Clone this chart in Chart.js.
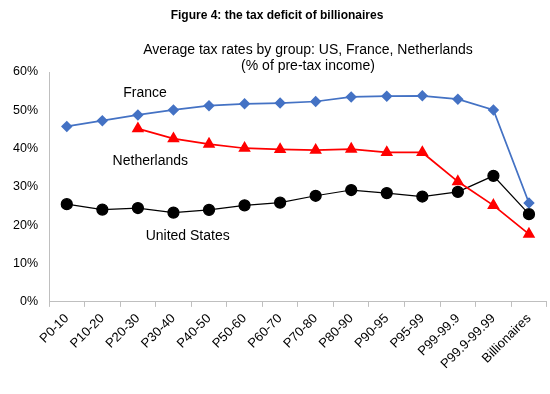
<!DOCTYPE html>
<html>
<head>
<meta charset="utf-8">
<script src="https://cdn.jsdelivr.net/npm/chart.js@4/dist/chart.umd.min.js"></script>
<style>
  html, body { margin: 0; padding: 0; background: #fff; overflow: hidden; }
  #wrap { position: relative; width: 550px; height: 394px; overflow: hidden; }
</style>
</head>
<body>
<div id="wrap"><canvas id="myChart" width="554" height="394"></canvas></div>
<script>
const groups = ["P0-10", "P10-20", "P20-30", "P30-40", "P40-50", "P50-60", "P60-70", "P70-80", "P80-90", "P90-95", "P95-99", "P99-99.9", "P99.9-99.99", "Billionaires"];
const france = [45.8, 47.3, 48.8, 50.1, 51.2, 51.7, 51.9, 52.3, 53.5, 53.7, 53.8, 52.9, 50.1, 25.8];
const netherlands = [null, null, 45.2, 42.6, 41.2, 40.1, 39.8, 39.6, 39.9, 39.0, 39.0, 31.4, 25.2, 17.7];
const unitedStates = [25.5, 24.1, 24.5, 23.3, 24.0, 25.2, 25.9, 27.7, 29.2, 28.4, 27.5, 28.7, 32.9, 22.9];

const FONT = "'Liberation Sans', Arial, sans-serif";

// series names written next to the lines, placed with the scales
const seriesLabels = [
  { text: "France", at: 2.2, value: 54.6 },
  { text: "Netherlands", at: 2.35, value: 36.8 },
  { text: "United States", at: 3.4, value: 17.2 }
];

const textPlugin = {
  id: "texts",
  afterDraw(chart) {
    const c = chart.ctx;
    const x = chart.scales.x, y = chart.scales.y;
    c.save();
    c.fillStyle = "#000";
    c.textAlign = "center";
    c.textBaseline = "middle";
    c.font = "bold 12px " + FONT;
    c.fillText("Figure 4: the tax deficit of billionaires", 277, 16);
    c.font = "14px " + FONT;
    c.fillText("Average tax rates by group: US, France, Netherlands", 308, 50);
    c.fillText("(% of pre-tax income)", 308, 66);
    for (const l of seriesLabels) {
      c.fillText(l.text, x.getPixelForValue(l.at), y.getPixelForValue(l.value));
    }
    c.restore();
  }
};

const ctx = document.getElementById("myChart").getContext("2d");
new Chart(ctx, {
  type: "line",
  data: {
    labels: groups,
    datasets: [
      {
        label: "France",
        data: france,
        borderColor: "#4472C4",
        backgroundColor: "#4472C4",
        borderWidth: 1.75,
        pointStyle: "rectRot",
        pointRadius: 4.5,
        pointHoverRadius: 4.5
      },
      {
        label: "Netherlands",
        data: netherlands,
        borderColor: "#FF0000",
        backgroundColor: "#FF0000",
        borderWidth: 1.75,
        pointStyle: "triangle",
        pointRadius: 5.5,
        pointHoverRadius: 5.5
      },
      {
        label: "United States",
        data: unitedStates,
        borderColor: "#000000",
        backgroundColor: "#000000",
        borderWidth: 1.25,
        pointStyle: "circle",
        pointRadius: 5.5,
        pointHoverRadius: 5.5
      }
    ]
  },
  options: {
    responsive: false,
    animation: false,
    layout: { padding: { top: 72, left: 2, right: 0, bottom: 18 } },
    plugins: {
      legend: { display: false },
      title: { display: false },
      tooltip: { enabled: false }
    },
    scales: {
      x: {
        offset: true,
        grid: { offset: true, drawOnChartArea: false, drawTicks: true, tickLength: 5, color: "#bfbfbf" },
        border: { display: true, color: "#bfbfbf" },
        ticks: {
          color: "#000",
          font: { family: FONT, size: 13 },
          maxRotation: 45,
          minRotation: 45,
          autoSkip: false,
          padding: 4
        }
      },
      y: {
        min: 0,
        max: 60,
        grid: { display: false, drawTicks: false },
        border: { display: true, color: "#bfbfbf" },
        ticks: {
          stepSize: 10,
          color: "#000",
          font: { family: FONT, size: 12.5 },
          padding: 11,
          callback: v => v + "%"
        }
      }
    }
  },
  plugins: [textPlugin]
});
</script>
</body>
</html>
